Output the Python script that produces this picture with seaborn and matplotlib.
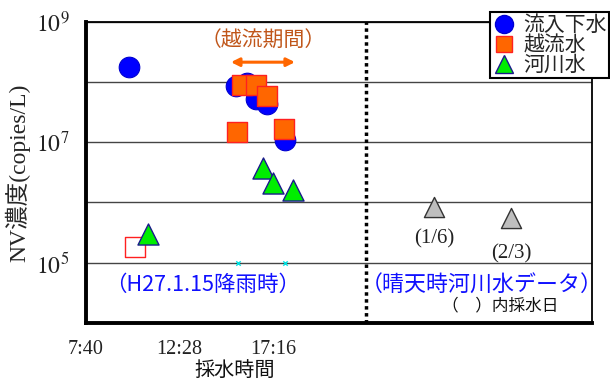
import math
import matplotlib
matplotlib.use("Agg")
import matplotlib.pyplot as plt
from matplotlib.lines import Line2D
from matplotlib.ticker import FixedLocator, FuncFormatter
import seaborn as sns

# Sampling time in hours from 0:00 of the rain day, NV concentration in copies/L
inflow_t = [9.87, 15.37, 15.93, 16.39, 16.96, 17.89]
inflow_nv = [1.8e8, 8.5e7, 9.5e7, 5.2e7, 4.3e7, 1.1e7]

overflow_t = [15.42, 15.67, 16.39, 16.96, 17.83]
overflow_nv = [1.5e7, 8.9e7, 8.9e7, 5.9e7, 1.66e7]

# overflow sample below the detection limit (open marker)
overflow_nd_t = [10.18]
overflow_nd_nv = [1.8e5]

river_t = [10.85, 16.75, 17.27, 18.29]
river_nv = [3.0e5, 3.8e6, 2.1e6, 1.6e6]

# dry-weather river water
clear_t = [25.53, 29.49]
clear_nv = [8.3e5, 5.6e5]
clear_dates = ["(1/6)", "(2/3)"]

period_marks_t = [15.47, 17.88]
period_marks_nv = [1e5, 1e5]
overflow_period = [15.11, 18.40]

tick_t = [7 + 40 / 60 + 4.8 * k for k in range(6)]
tick_labels = ["7:40", "12:28", "17:16", "", "", ""]
divider_t = tick_t[3]

sns.set_style("white")
plt.rcParams["font.family"] = ["Liberation Serif", "Noto Sans CJK JP", "DejaVu Sans"]
plt.rcParams["mathtext.fontset"] = "stix"

CJK = ["Noto Sans CJK JP", "DejaVu Sans"]
SERIF_CJK = ["Liberation Serif", "Noto Sans CJK JP", "DejaVu Sans"]

fig = plt.figure(figsize=(6.1, 3.83), dpi=100)
ax = fig.add_axes([0.141, 0.157, 0.829, 0.786])

blue, orange, red, green, navy = "#0000FF", "#FF6600", "#FF2020", "#00EE00", "#1A1A8C"

sns.scatterplot(x=inflow_t, y=inflow_nv, ax=ax, marker="o", s=220,
                color=blue, edgecolor="#0000D0", linewidth=0.8, zorder=3)
sns.scatterplot(x=overflow_t, y=overflow_nv, ax=ax, marker="s", s=190,
                color=orange, edgecolor=red, linewidth=1.0, zorder=4)
sns.scatterplot(x=overflow_nd_t, y=overflow_nd_nv, ax=ax, marker="s", s=190,
                color="white", edgecolor=red, linewidth=1.0, zorder=4)
sns.scatterplot(x=river_t, y=river_nv, ax=ax, marker="^", s=230,
                color=green, edgecolor=navy, linewidth=1.0, zorder=5)
sns.scatterplot(x=clear_t, y=clear_nv, ax=ax, marker="^", s=210,
                color="#BEBEBE", edgecolor="#333333", linewidth=1.0, zorder=5)
sns.scatterplot(x=period_marks_t, y=period_marks_nv, ax=ax, marker="x", s=10,
                color="#00E0E0", linewidth=1.0, zorder=5)

ax.set_yscale("log")
ax.set_xlim(tick_t[0], 33.64)
ax.set_ylim(1e4, 1e9)


def decade_label(v, pos):
    e = round(math.log10(v))
    return "$10^{%d}$" % e if e in (5, 7, 9) else ""


# decade gridlines, labels on odd exponents only
ax.yaxis.set_major_locator(FixedLocator([1e4, 1e5, 1e6, 1e7, 1e8, 1e9]))
ax.yaxis.set_minor_locator(FixedLocator([]))
ax.yaxis.set_major_formatter(FuncFormatter(decade_label))
ax.yaxis.grid(True, color="#444444", linewidth=1.0)
ax.xaxis.grid(False)

ax.set_xticks(tick_t)
ax.set_xticklabels(tick_labels)
ax.tick_params(axis="both", direction="in", length=6, width=2, color="black")
ax.tick_params(axis="x", pad=12, labelsize=14.5, labelcolor="#222222")
ax.tick_params(axis="y", pad=12, labelsize=17, labelcolor="#222222")

for side in ("left", "bottom"):
    ax.spines[side].set_linewidth(2.8)
    ax.spines[side].set_color("black")
for side in ("top", "right"):
    ax.spines[side].set_linewidth(1.3)
    ax.spines[side].set_color("black")

ax.axvline(divider_t, color="black", linestyle=(0, (1, 1)), linewidth=2.5, zorder=2)

ax.set_ylabel("NV濃度(copies/L)", family=SERIF_CJK, fontsize=17, labelpad=4)
ax.set_xlabel("採水時間", family=CJK, fontsize=14.5, color="#111111")
ax.xaxis.set_label_coords(0.293, -0.123)

# overflow period
ax.annotate("", xy=(overflow_period[1], 10 ** 8.33), xytext=(overflow_period[0], 10 ** 8.33),
            arrowprops=dict(arrowstyle="<|-|>", color=orange, lw=2.2,
                            mutation_scale=12, shrinkA=0, shrinkB=0))
ax.text(sum(overflow_period) / 2, 10 ** 8.68, "（越流期間）", family=CJK, fontsize=15,
        color="#C0561A", ha="center", va="center")

ax.text(13.67, 10 ** 4.63, "（H27.1.15降雨時）", family=CJK, fontsize=15.5,
        color="#1010FF", ha="center", va="center")
ax.text(28.0, 10 ** 4.63, "（晴天時河川水データ）", family=CJK, fontsize=15.8,
        color="#1010FF", ha="center", va="center")
ax.text(28.95, 10 ** 4.28, "（　）内採水日", family=CJK, fontsize=12,
        color="#111111", ha="center", va="center")

for t, v, lab, dy in zip(clear_t, clear_nv, clear_dates, (-16, -19)):
    ax.annotate(lab, xy=(t, v), xytext=(0, dy), textcoords="offset points",
                ha="center", va="top", fontsize=15, family=SERIF_CJK, color="#222222")

handles = [
    Line2D([], [], linestyle="none", marker="o", markersize=13, color=blue,
           markeredgecolor="#0000D0"),
    Line2D([], [], linestyle="none", marker="s", markersize=12, color=orange,
           markeredgecolor=red),
    Line2D([], [], linestyle="none", marker="^", markersize=13, color=green,
           markeredgecolor=navy),
]
leg = ax.legend(handles, ["流入下水", "越流水", "河川水"], prop={"family": CJK, "size": 15},
                loc="upper left", bbox_to_anchor=(0.803, 0.968), bbox_transform=fig.transFigure,
                frameon=True, fancybox=False, edgecolor="black", framealpha=1,
                borderpad=0.1, labelspacing=-0.1, handletextpad=0.3, handlelength=1.2,
                borderaxespad=0)
leg.get_frame().set_linewidth(1.5)
leg.set_zorder(10)

fig.savefig("out.png", dpi=100)
